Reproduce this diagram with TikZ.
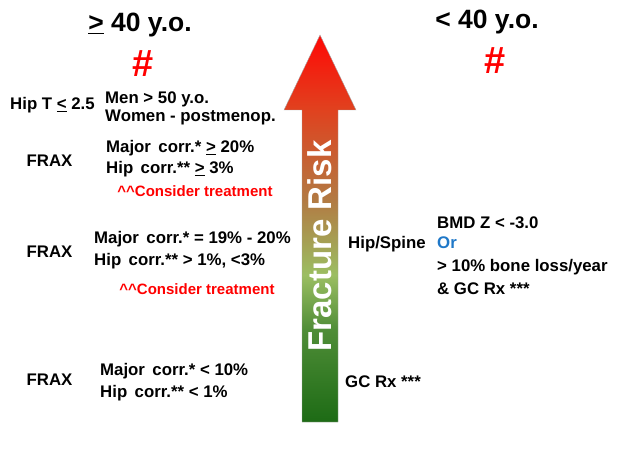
\documentclass[tikz,border=0pt]{standalone}
\usepackage{fontspec}
\setmainfont{Liberation Sans}
\usetikzlibrary{positioning}

\definecolor{riskred}{HTML}{FF0805}
\definecolor{riskorange}{HTML}{E0421F}
\definecolor{riskbrown}{HTML}{B27A43}
\definecolor{lightgreen}{HTML}{9BBE62}
\definecolor{midgreen}{HTML}{4F8D37}
\definecolor{darkgreen}{HTML}{1D6B15}
\definecolor{orblue}{HTML}{1F78C8}

% shading of the risk arrow, 25bp..75bp is stretched over the arrow
\pgfdeclareverticalshading{riskshade}{100bp}{color(0bp)=(darkgreen); color(25bp)=(darkgreen);
  color(36.9bp)=(midgreen); color(44bp)=(lightgreen); color(53.7bp)=(riskbrown);
  color(65.3bp)=(riskorange); color(75bp)=(riskred); color(100bp)=(riskred)}

\tikzset{
  txt/.style={font=\fontsize{16.8}{19}\selectfont\bfseries, inner sep=0pt, anchor=west,
    text height=13pt, text depth=3pt},
  head/.style={font=\fontsize{26.5}{30}\selectfont\bfseries, inner sep=0pt},
  hash/.style={font=\fontsize{38}{40}\selectfont\bfseries, text=red, inner sep=0pt},
  note/.style={font=\fontsize{15}{17}\selectfont\bfseries, text=red, inner sep=0pt},
}

\begin{document}
\begin{tikzpicture}[x=1pt,y=-1pt]
  \useasboundingbox (0,0) rectangle (624,468);

  % column heads
  \node[head] (old) at (140,25) {\underline{>} 40 y.o.};
  \node[hash] (oldhash) at (143,64) {\#};
  \node[head] (young) at (487,22) {< 40 y.o.};
  \node[hash] (younghash) at (495,61) {\#};

  % risk arrow
  \draw[gray!70, thin, shading=riskshade]
    (302,422) -- (302,110) -- (284,110) -- (320,35) -- (356,110) -- (338,110) -- (338,422) -- cycle;
  \node[font=\fontsize{33}{36}\selectfont\bfseries, text=white, rotate=90, inner sep=0pt]
    (risk) at (320,246) {Fracture Risk};

  % >= 40 y.o.
  \node[txt] (hipt) at (10,105) {Hip T \underline{<} 2.5};
  \node[txt] (men) at (105,99) {Men > 50 y.o.};
  \node[txt, below right=1pt and 0pt of men.south west] (women) {Women - postmenop.};

  \node[txt, anchor=center] (fraxa) at (49.5,162) {FRAX};
  \node[txt] (majora) at (106,148) {Major\, corr.* \underline{>} 20\%};
  \node[txt, below right=4pt and 0pt of majora.south west] (hipa) {Hip\, corr.** \underline{>} 3\%};
  \node[note] (considera) at (195,191) {\^{}\^{}Consider treatment};

  \node[txt, anchor=center] (fraxb) at (49.5,252) {FRAX};
  \node[txt] (majorb) at (94,238) {Major\, corr.* = 19\% - 20\%};
  \node[txt, below right=6pt and 0pt of majorb.south west] (hipb) {Hip\, corr.** > 1\%, <3\%};
  \node[note] (considerb) at (197,289) {\^{}\^{}Consider treatment};

  \node[txt, anchor=center] (fraxc) at (49.5,380) {FRAX};
  \node[txt] (majorc) at (100,370) {Major\, corr.* < 10\%};
  \node[txt, below right=6pt and 0pt of majorc.south west] (hipc) {Hip\, corr.** < 1\%};

  % < 40 y.o.
  \node[txt] (hipspine) at (348,243) {Hip/Spine};
  \node[txt] (bmd) at (437,223) {BMD Z < -3.0};
  \node[txt, below right=4pt and 0pt of bmd.south west, text=orblue] (or) {Or};
  \node[txt, below right=7pt and 0pt of or.south west] (loss) {> 10\% bone loss/year};
  \node[txt, below right=6pt and 0pt of loss.south west] (gcand) {\& GC Rx ***};
  \node[txt] (gcrx) at (345,382) {GC Rx ***};
\end{tikzpicture}
\end{document}
